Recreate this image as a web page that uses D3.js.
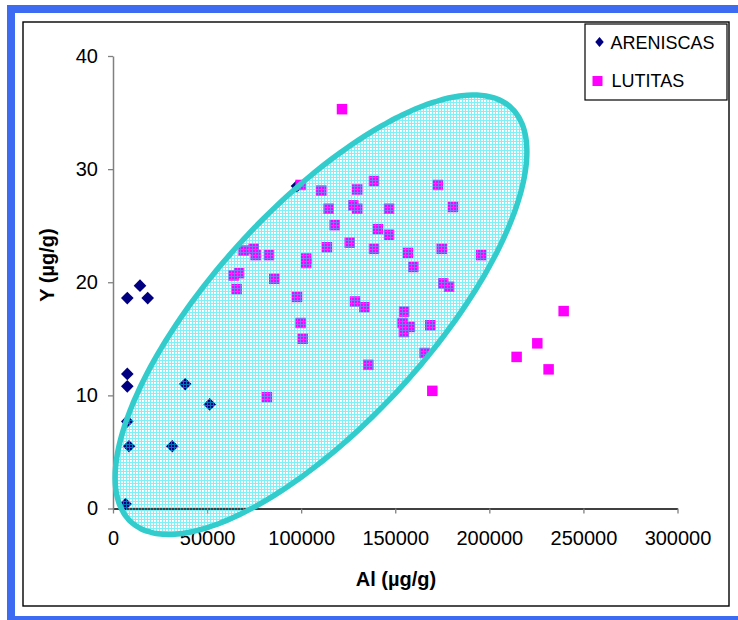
<!DOCTYPE html>
<html><head><meta charset="utf-8">
<script src="https://cdn.jsdelivr.net/npm/d3@7"></script>
<style>html,body{margin:0;padding:0;background:#fff;} svg{display:block;font-family:"Liberation Sans",Arial,sans-serif;}</style>
</head><body><svg id="c" width="738" height="620"></svg>
<script>
// ---- data ----
const xTicks = [0, 50000, 100000, 150000, 200000, 250000, 300000];
const yTicks = [0, 10, 20, 30, 40];
const seriesNames = ["ARENISCAS", "LUTITAS"];
const xTitle = "Al (µg/g)";
const yTitle = "Y (µg/g)";

const arenAl = [14350, 7600, 18440, 7600, 7600, 38400, 51400, 7600, 8500, 31500, 6700, 97800];
const arenY  = [19.7, 18.6, 18.6, 11.9, 10.8, 11.0, 9.2, 7.7, 5.5, 5.5, 0.4, 28.5];

const lutAl = [121700, 99700, 110700, 129800, 138700, 172700, 114600, 127700, 129800, 146700,
  180700, 117800, 140800, 146700, 69400, 74800, 75800, 82900, 113700, 125800,
  138700, 156800, 174700, 195600, 102700, 102700, 64100, 67000, 85700, 159600,
  65700, 175500, 178600, 97800, 128600, 133600, 154700, 99700, 153900, 157800,
  154600, 168600, 100800, 165600, 135700, 169700, 239500, 225500, 214500, 231500, 81800];
const lutY = [35.3, 28.6, 28.1, 28.2, 28.95, 28.6, 26.5, 26.8, 26.5, 26.5,
  26.65, 25.05, 24.7, 24.2, 22.8, 22.95, 22.4, 22.4, 23.1, 23.5,
  22.95, 22.6, 22.95, 22.4, 22.1, 21.7, 20.6, 20.8, 20.3, 21.35,
  19.4, 19.9, 19.6, 18.7, 18.3, 17.8, 17.4, 16.4, 16.4, 16.05,
  15.6, 16.2, 15.0, 13.75, 12.7, 10.4, 17.45, 14.6, 13.4, 12.3, 9.85];

// ellipse annotation in data units: center and two conjugate half-axes
const ellipseCenter = [110540, 17.13];
const ellipseAxisA = [100900, 18.32];
const ellipseAxisB = [42320, -6.45];

// ---- drawing ----
const svg = d3.select("#c");
const x = d3.scaleLinear().domain([0, 300000]).range([113, 677.5]);
const y = d3.scaleLinear().domain([0, 40]).range([508.5, 56]);

const defs = svg.append("defs");
const pat = defs.append("pattern").attr("id", "grid").attr("patternUnits", "userSpaceOnUse")
  .attr("width", 3).attr("height", 3);
pat.append("rect").attr("x", 0).attr("y", 0).attr("width", 3).attr("height", 1).attr("fill", "rgba(0,225,235,0.5)");
pat.append("rect").attr("x", 0).attr("y", 1).attr("width", 1).attr("height", 2).attr("fill", "rgba(0,225,235,0.5)");

// blue outer frame
svg.append("rect").attr("x", 11).attr("y", 9).attr("width", 800).attr("height", 611)
  .attr("fill", "none").attr("stroke", "#3d6cf2").attr("stroke-width", 8);
// chart border
svg.append("rect").attr("x", 23).attr("y", 22).attr("width", 706).attr("height", 584)
  .attr("fill", "#fff").attr("stroke", "#000").attr("stroke-width", 1.4);

// axes
const xAxis = svg.append("g").attr("transform", `translate(0,${y(0)})`)
  .call(d3.axisBottom(x).tickValues(xTicks).tickFormat(d3.format("d")).tickSize(5).tickSizeOuter(0).tickPadding(17));
xAxis.select(".domain").attr("stroke", "#000").attr("stroke-width", 1.3);
xAxis.selectAll(".tick line").attr("stroke", "#808080").attr("stroke-width", 1.3);
xAxis.selectAll("text").attr("font-size", 20).attr("font-family", "Liberation Sans, Arial, sans-serif").attr("fill", "#000");

const yAxis = svg.append("g").attr("transform", `translate(${x(0)},0)`)
  .call(d3.axisLeft(y).tickValues(yTicks).tickSize(5).tickSizeOuter(0).tickPadding(10));
yAxis.select(".domain").attr("stroke", "#808080").attr("stroke-width", 1.5);
yAxis.selectAll(".tick line").attr("stroke", "#808080").attr("stroke-width", 1.3);
yAxis.selectAll("text").attr("font-size", 20).attr("font-family", "Liberation Sans, Arial, sans-serif").attr("fill", "#000");

// titles
svg.append("text").attr("x", 396).attr("y", 586).attr("text-anchor", "middle")
  .attr("font-size", 20).attr("font-weight", "bold").text(xTitle);
svg.append("text").attr("transform", "translate(54,265) rotate(-90)").attr("text-anchor", "middle")
  .attr("font-size", 20).attr("font-weight", "bold").text(yTitle);

// points
const diamond = d3.symbol().type(d3.symbolSquare).size(80);
const square = d3.symbol().type(d3.symbolSquare).size(110);
svg.append("g").selectAll("path").data(d3.range(arenAl.length)).join("path")
  .attr("d", diamond)
  .attr("transform", i => `translate(${x(arenAl[i])},${y(arenY[i])}) rotate(45)`)
  .attr("fill", "#000080");
svg.append("g").selectAll("path").data(d3.range(lutAl.length)).join("path")
  .attr("d", square)
  .attr("transform", i => `translate(${x(lutAl[i])},${y(lutY[i])})`)
  .attr("fill", "#ff00ff");

// ellipse
const ts = d3.range(0, 361, 2).map(a => a * Math.PI / 180);
const ellPts = ts.map(t => [
  x(ellipseCenter[0] + Math.cos(t) * ellipseAxisA[0] + Math.sin(t) * ellipseAxisB[0]),
  y(ellipseCenter[1] + Math.cos(t) * ellipseAxisA[1] + Math.sin(t) * ellipseAxisB[1])
]);
svg.append("path").attr("d", d3.line().curve(d3.curveCardinalClosed)(ellPts.slice(0, -1)))
  .attr("fill", "url(#grid)").attr("stroke", "#33cccc").attr("stroke-width", 5.5);

// legend
const lg = svg.append("g");
lg.append("rect").attr("x", 585).attr("y", 24).attr("width", 142).attr("height", 76)
  .attr("fill", "#fff").attr("stroke", "#000").attr("stroke-width", 1.2);
lg.append("path").attr("d", d3.symbol().type(d3.symbolSquare).size(50))
  .attr("transform", "translate(599.5,42) scale(0.85,1) rotate(45)").attr("fill", "#000080");
lg.append("path").attr("d", d3.symbol().type(d3.symbolSquare).size(100))
  .attr("transform", "translate(597.5,81)").attr("fill", "#ff00ff");
lg.append("text").attr("x", 610.5).attr("y", 48.5).attr("font-size", 18).text(seriesNames[0]);
lg.append("text").attr("x", 611.5).attr("y", 87).attr("font-size", 18).text(seriesNames[1]);
</script></body></html>
